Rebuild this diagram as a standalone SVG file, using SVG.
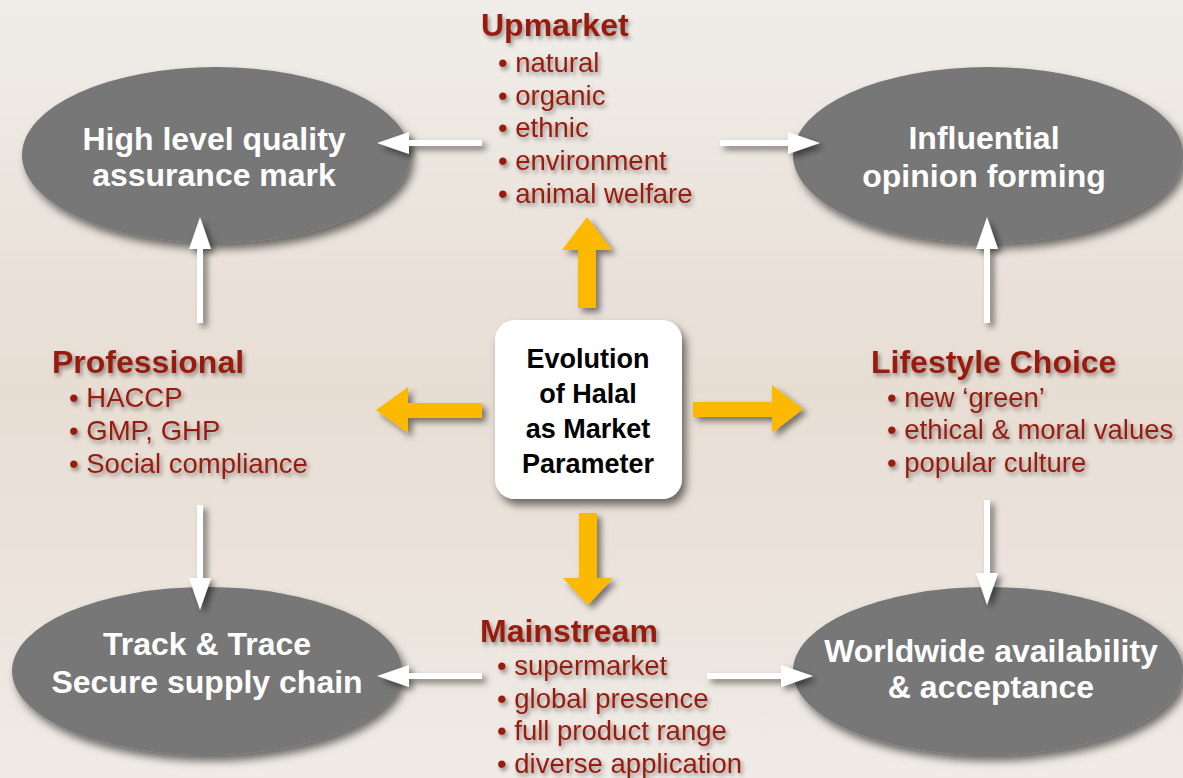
<svg xmlns="http://www.w3.org/2000/svg" width="1183" height="778" viewBox="0 0 1183 778">
  <defs>
    <linearGradient id="bg" x1="0" y1="0" x2="0" y2="1">
      <stop offset="0" stop-color="#f0ede9"/>
      <stop offset="0.5" stop-color="#e7ddd3"/>
      <stop offset="1" stop-color="#f0ebe6"/>
    </linearGradient>
    <filter id="shadowBig" x="-20%" y="-20%" width="140%" height="150%">
      <feDropShadow dx="4" dy="6" stdDeviation="4" flood-color="#000" flood-opacity="0.55"/>
    </filter>
    <filter id="shadowArrow" x="-30%" y="-30%" width="160%" height="160%">
      <feDropShadow dx="4" dy="4" stdDeviation="3" flood-color="#000" flood-opacity="0.5"/>
    </filter>
    <filter id="shadowText" x="-10%" y="-20%" width="120%" height="150%">
      <feDropShadow dx="2" dy="3" stdDeviation="2" flood-color="#000" flood-opacity="0.4"/>
    </filter>
    <marker id="head" markerUnits="userSpaceOnUse" markerWidth="32" markerHeight="22" viewBox="0 0 32 22" refX="6" refY="11" orient="auto">
      <path d="M0,0 L32,11 L0,22 Z" fill="#ffffff"/>
    </marker>
    <style>
      .node { fill: #777777; filter: url(#shadowBig); }
      .nodeText { font-family: "Liberation Sans", Arial, Helvetica, sans-serif; font-weight: bold; font-size: 32px; fill: #ffffff; text-anchor: middle; }
      .hub { fill: #ffffff; filter: url(#shadowBig); }
      .hubText { font-family: "Liberation Sans", Arial, Helvetica, sans-serif; font-weight: bold; font-size: 27px; fill: #000000; text-anchor: middle; }
      .head { font-family: "Liberation Sans", Arial, Helvetica, sans-serif; font-weight: bold; font-size: 32px; fill: #981b0d; }
      .item { font-family: "Liberation Sans", Arial, Helvetica, sans-serif; font-size: 27.5px; fill: #981b0d; }
      .label { filter: url(#shadowText); }
      .link { stroke: #ffffff; stroke-width: 6; fill: none; marker-end: url(#head); }
      .bigArrow { fill: #fdb900; }
    </style>
  </defs>

  <rect width="1183" height="778" fill="url(#bg)"/>

  <g id="node-quality">
    <ellipse class="node" cx="216" cy="155" rx="194" ry="88"/>
    <text class="nodeText" x="214" y="150">High level quality</text>
    <text class="nodeText" x="214" y="186">assurance mark</text>
  </g>

  <g id="node-opinion">
    <ellipse class="node" cx="988" cy="155" rx="195" ry="88"/>
    <text class="nodeText" x="984" y="149">Influential</text>
    <text class="nodeText" x="984" y="187">opinion forming</text>
  </g>

  <g id="node-trace">
    <ellipse class="node" cx="207" cy="671" rx="195" ry="84"/>
    <text class="nodeText" x="207" y="655">Track &amp; Trace</text>
    <text class="nodeText" x="207" y="693">Secure supply chain</text>
  </g>

  <g id="node-worldwide">
    <ellipse class="node" cx="988" cy="671" rx="195" ry="84"/>
    <text class="nodeText" x="991" y="662">Worldwide availability</text>
    <text class="nodeText" x="991" y="698">&amp; acceptance</text>
  </g>

  <!-- white connectors between the outer ellipses, heads overlapping the ellipse rims -->
  <g id="connectors" filter="url(#shadowArrow)">
    <line class="link" x1="482" y1="143" x2="403" y2="143"/>
    <line class="link" x1="720" y1="143" x2="794" y2="143"/>
    <line class="link" x1="200" y1="323" x2="200" y2="243"/>
    <line class="link" x1="987" y1="323" x2="987" y2="243"/>
    <line class="link" x1="200" y1="505" x2="200" y2="584"/>
    <line class="link" x1="987" y1="500" x2="987" y2="579"/>
    <line class="link" x1="482" y1="676" x2="403" y2="676"/>
    <line class="link" x1="707" y1="676" x2="787" y2="676"/>
  </g>

  <!-- yellow arrows radiating from the hub -->
  <g id="hub-arrows" filter="url(#shadowArrow)">
    <polygon class="bigArrow" points="587,217 612,250 596,250 596,308 578,308 578,250 562,250"/>
    <polygon class="bigArrow" points="579,513 597,513 597,578 613,578 588,605 563,578 579,578"/>
    <polygon class="bigArrow" points="376,410 408,387 408,403 482,403 482,418 408,418 408,433"/>
    <polygon class="bigArrow" points="803,409 772,385 772,402 693,402 693,417 772,417 772,433"/>
  </g>

  <g id="node-hub">
    <rect class="hub" x="495" y="320" width="187" height="179" rx="20" ry="20"/>
    <text class="hubText" x="588" y="368">Evolution</text>
    <text class="hubText" x="588" y="403">of Halal</text>
    <text class="hubText" x="588" y="438">as Market</text>
    <text class="hubText" x="588" y="473">Parameter</text>
  </g>

  <g id="node-upmarket" class="label">
    <text class="head" x="481" y="36">Upmarket</text>
    <text class="item" x="498" y="72">• natural</text>
    <text class="item" x="498" y="105">• organic</text>
    <text class="item" x="498" y="137">• ethnic</text>
    <text class="item" x="498" y="170">• environment</text>
    <text class="item" x="498" y="203">• animal welfare</text>
  </g>

  <g id="node-professional" class="label">
    <text class="head" x="52" y="373">Professional</text>
    <text class="item" x="69" y="407">• HACCP</text>
    <text class="item" x="69" y="440">• GMP, GHP</text>
    <text class="item" x="69" y="473">• Social compliance</text>
  </g>

  <g id="node-lifestyle" class="label">
    <text class="head" x="871" y="373">Lifestyle Choice</text>
    <text class="item" x="887" y="407">• new ‘green’</text>
    <text class="item" x="887" y="439">• ethical &amp; moral values</text>
    <text class="item" x="887" y="472">• popular culture</text>
  </g>

  <g id="node-mainstream" class="label">
    <text class="head" x="480" y="642">Mainstream</text>
    <text class="item" x="497" y="675">• supermarket</text>
    <text class="item" x="497" y="708">• global presence</text>
    <text class="item" x="497" y="740">• full product range</text>
    <text class="item" x="497" y="773">• diverse application</text>
  </g>
</svg>
